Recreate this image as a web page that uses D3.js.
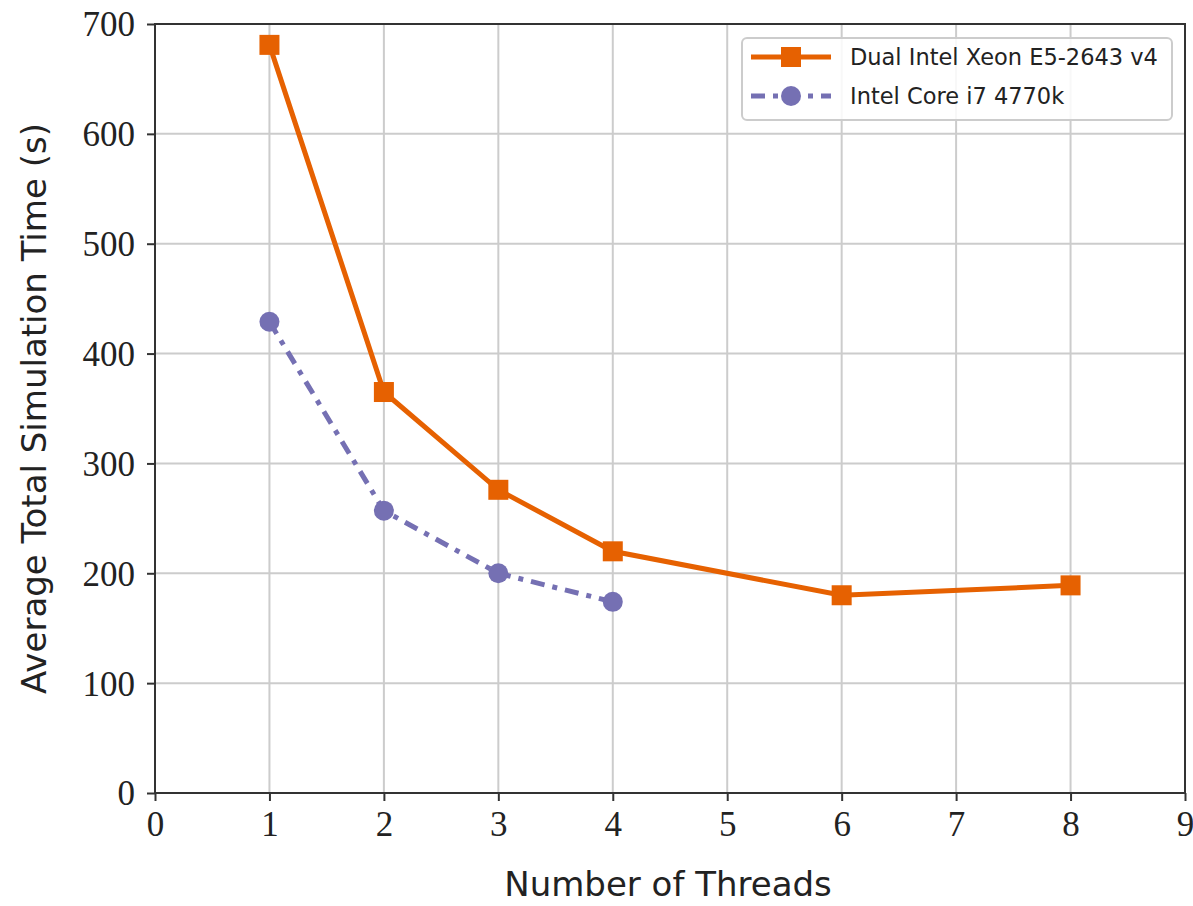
<!DOCTYPE html>
<html>
<head>
<meta charset="utf-8">
<script src="https://cdn.jsdelivr.net/npm/d3@7"></script>
<style>
  body { margin: 0; background: #fff; }
</style>
</head>
<body>
<script>
// data
const xeonThreads = [1, 2, 3, 4, 6, 8];
const xeonTimes = [681, 365, 276, 220, 180, 189];
const coreThreads = [1, 2, 3, 4];
const coreTimes = [429, 257, 200, 174];
const seriesNames = ["Dual Intel Xeon E5-2643 v4", "Intel Core i7 4770k"];
const xTicks = [0, 1, 2, 3, 4, 5, 6, 7, 8, 9];
const yTicks = [0, 100, 200, 300, 400, 500, 600, 700];

const W = 1193, H = 906;
const plotL = 155, plotR = 1185, plotT = 24, plotB = 793;
const orange = "#e66101", purple = "#7570b3";
const dashDot = "14,8,5,8";

const svg = d3.select("body").append("svg")
    .attr("width", W)
    .attr("height", H);

const x = d3.scaleLinear().domain([0, 9]).range([plotL, plotR]);
const y = d3.scaleLinear().domain([0, 700]).range([plotB, plotT]);

// grid
svg.append("g").selectAll("line")
    .data(xTicks.slice(1, -1))
    .join("line")
    .attr("x1", d => x(d)).attr("x2", d => x(d))
    .attr("y1", plotT).attr("y2", plotB)
    .attr("stroke", "#cccccc").attr("stroke-width", 2);
svg.append("g").selectAll("line")
    .data(yTicks.slice(1, -1))
    .join("line")
    .attr("y1", d => y(d)).attr("y2", d => y(d))
    .attr("x1", plotL).attr("x2", plotR)
    .attr("stroke", "#cccccc").attr("stroke-width", 2);

// axes
const xAxis = svg.append("g")
    .attr("transform", `translate(0,${plotB})`)
    .call(d3.axisBottom(x).tickValues(xTicks).tickSize(8).tickPadding(10).tickFormat(d3.format("d")));
const yAxis = svg.append("g")
    .attr("transform", `translate(${plotL},0)`)
    .call(d3.axisLeft(y).tickValues(yTicks).tickSize(8).tickPadding(12).tickFormat(d3.format("d")));

[xAxis, yAxis].forEach(g => {
  g.select(".domain").remove();
  g.selectAll(".tick line").attr("stroke", "#333").attr("stroke-width", 2);
  g.selectAll(".tick text")
    .attr("fill", "#222")
    .style("font-family", "'Liberation Serif', 'DejaVu Serif', serif")
    .style("font-size", "35px");
});
yAxis.selectAll(".tick text").attr("dy", "0.34em");

// frame
svg.append("rect")
    .attr("x", plotL).attr("y", plotT)
    .attr("width", plotR - plotL).attr("height", plotB - plotT)
    .attr("fill", "none")
    .attr("stroke", "#333").attr("stroke-width", 2);

// lines
const line = d3.line().x(d => x(d[0])).y(d => y(d[1]));
const xeon = d3.zip(xeonThreads, xeonTimes);
const core = d3.zip(coreThreads, coreTimes);

svg.append("path")
    .datum(core)
    .attr("d", line)
    .attr("fill", "none")
    .attr("stroke", purple)
    .attr("stroke-width", 5)
    .attr("stroke-dasharray", dashDot);
svg.append("g").selectAll("circle")
    .data(core)
    .join("circle")
    .attr("cx", d => x(d[0])).attr("cy", d => y(d[1]))
    .attr("r", 10)
    .attr("fill", purple);

svg.append("path")
    .datum(xeon)
    .attr("d", line)
    .attr("fill", "none")
    .attr("stroke", orange)
    .attr("stroke-width", 5);
svg.append("g").selectAll("rect")
    .data(xeon)
    .join("rect")
    .attr("x", d => x(d[0]) - 10).attr("y", d => y(d[1]) - 10)
    .attr("width", 20).attr("height", 20)
    .attr("fill", orange);

// axis labels
const sans = "'DejaVu Sans', sans-serif";
svg.append("text")
    .attr("x", (plotL + plotR) / 2 - 2).attr("y", 896)
    .attr("text-anchor", "middle")
    .attr("fill", "#222")
    .style("font-family", sans).style("font-size", "34px")
    .text("Number of Threads");
svg.append("text")
    .attr("transform", `translate(46,${(plotT + plotB) / 2}) rotate(-90)`)
    .attr("text-anchor", "middle")
    .attr("fill", "#222")
    .style("font-family", sans).style("font-size", "34px")
    .text("Average Total Simulation Time (s)");

// legend
const lg = svg.append("g");
lg.append("rect")
    .attr("x", 742).attr("y", 38)
    .attr("width", 430).attr("height", 82)
    .attr("rx", 5)
    .attr("fill", "white").attr("fill-opacity", 0.85)
    .attr("stroke", "#cccccc").attr("stroke-width", 2);

const rows = [
  {name: seriesNames[0], color: orange, dash: null, shape: "square", yy: 57},
  {name: seriesNames[1], color: purple, dash: dashDot, shape: "circle", yy: 96}
];
rows.forEach(r => {
  lg.append("line")
    .attr("x1", 751).attr("x2", 831)
    .attr("y1", r.yy).attr("y2", r.yy)
    .attr("stroke", r.color).attr("stroke-width", 5)
    .attr("stroke-dasharray", r.dash);
  if (r.shape === "square") {
    lg.append("rect").attr("x", 781).attr("y", r.yy - 10)
      .attr("width", 20).attr("height", 20).attr("fill", r.color);
  } else {
    lg.append("circle").attr("cx", 791).attr("cy", r.yy)
      .attr("r", 10).attr("fill", r.color);
  }
  lg.append("text")
    .attr("x", 850).attr("y", r.yy)
    .attr("dy", "0.36em")
    .attr("fill", "#222")
    .style("font-family", sans).style("font-size", "22.5px")
    .text(r.name);
});
</script>
</body>
</html>
